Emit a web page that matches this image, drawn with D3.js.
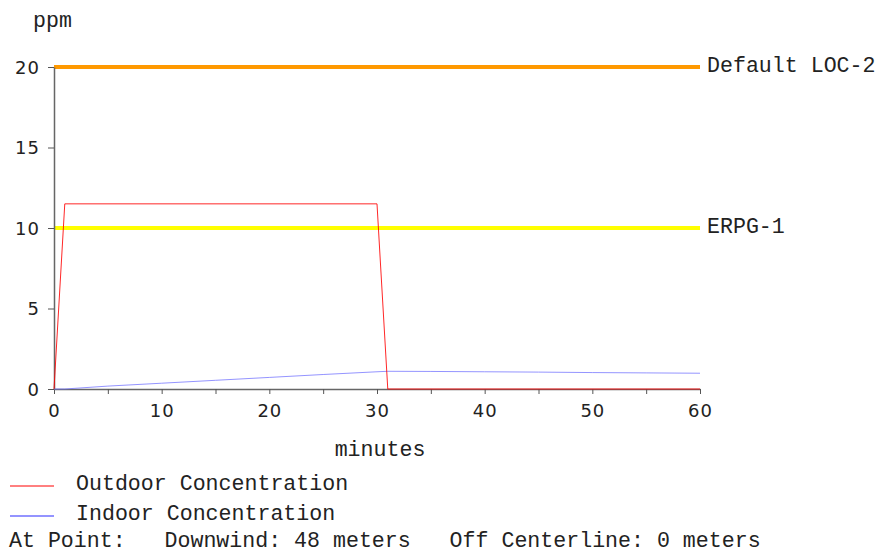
<!DOCTYPE html>
<html><head><meta charset="utf-8">
<script src="https://cdn.jsdelivr.net/npm/d3@7"></script>
<style>
body{margin:0;background:#fff;}
svg{display:block;}
.mono{font-family:"Liberation Mono","Courier New",monospace;font-size:21.6px;fill:#222;}
.tick text{font-family:"DejaVu Sans",Verdana,sans-serif;font-size:18px;fill:#222;letter-spacing:1px;}
</style></head>
<body>
<script>
// Data
const outdoorTime = [0, 1, 30, 31, 60];
const outdoorPpm  = [0, 11.5, 11.5, 0, 0];
const indoorTime = [0, 1, 5, 10, 15, 20, 25, 30, 31, 35, 40, 45, 50, 55, 60];
const indoorPpm  = [0, 0, 0.18, 0.36, 0.54, 0.72, 0.9, 1.07, 1.1, 1.09, 1.07, 1.05, 1.02, 1.0, 0.98];
const thresholdNames  = ["Default LOC-2", "ERPG-1"];
const thresholdValues = [20, 10];
const thresholdColors = ["#ff9900", "#ffff00"];
const xTickValues = [0,5,10,15,20,25,30,35,40,45,50,55,60];
const yTickValues = [0,5,10,15,20];
const legendNames = ["Outdoor Concentration", "Indoor Concentration"];
const legendColors = ["#ff0000", "#7070ff"];
const footnote = "At Point:   Downwind: 48 meters   Off Centerline: 0 meters";

const W = 878, H = 552;
const svg = d3.select("body").append("svg").attr("width", W).attr("height", H);

const x = d3.scaleLinear().domain([0, 60]).range([54, 700]);
const y = d3.scaleLinear().domain([0, 20]).range([389, 67]);

// Threshold lines
thresholdValues.forEach((v, i) => {
  svg.append("line")
    .attr("x1", x(0)).attr("x2", x(60))
    .attr("y1", y(v)).attr("y2", y(v))
    .attr("stroke", thresholdColors[i]).attr("stroke-width", 4);
  svg.append("text").attr("class", "mono")
    .attr("x", x(60) + 7).attr("y", y(v) + 5)
    .text(thresholdNames[i]);
});

// Axes
const xAxis = d3.axisBottom(x).tickValues(xTickValues).tickSize(5).tickSizeOuter(0)
  .tickFormat(d => d % 10 === 0 ? d : "");
const gx = svg.append("g").attr("transform", `translate(0,${y(0)})`).call(xAxis);
gx.selectAll("text").attr("dy", "0").attr("y", 28);

const yAxis = d3.axisLeft(y).tickValues(yTickValues).tickSize(6).tickSizeOuter(0);
const gy = svg.append("g").attr("transform", `translate(${x(0)},0)`).call(yAxis);
gy.selectAll("text").attr("x", -14).attr("dy", "0.36em");

[gx, gy].forEach(g => {
  g.select(".domain").attr("stroke", "#666").attr("stroke-width", 1.5);
  g.selectAll(".tick line").attr("stroke", "#555");
});

// Data lines
const line = d3.line().x(d => x(d[0])).y(d => y(d[1]));
svg.append("path")
  .datum(indoorTime.map((t, i) => [t, indoorPpm[i]]))
  .attr("d", line).attr("fill", "none")
  .attr("stroke", "#7070ff").attr("stroke-width", 1).attr("stroke-opacity", 0.75);
svg.append("path")
  .datum(outdoorTime.map((t, i) => [t, outdoorPpm[i]]))
  .attr("d", line).attr("fill", "none")
  .attr("stroke", "#ff0000").attr("stroke-width", 1).attr("stroke-opacity", 0.85);

// Axis titles
svg.append("text").attr("class", "mono").attr("x", 33).attr("y", 27).text("ppm");
svg.append("text").attr("class", "mono").attr("x", (x(0) + x(60)) / 2 + 3).attr("y", 456)
  .attr("text-anchor", "middle").text("minutes");

// Legend
const legY = [486, 516];
legendNames.forEach((n, i) => {
  svg.append("line").attr("x1", 10).attr("x2", 54).attr("y1", legY[i]).attr("y2", legY[i])
    .attr("stroke", legendColors[i]).attr("stroke-width", i === 0 ? 1 : 1.5);
  svg.append("text").attr("class", "mono").attr("x", 76).attr("y", legY[i] + 4).text(n);
});
svg.append("text").attr("class", "mono").attr("x", 9).attr("y", 547)
  .style("white-space", "pre").text(footnote);
</script>
</body></html>
